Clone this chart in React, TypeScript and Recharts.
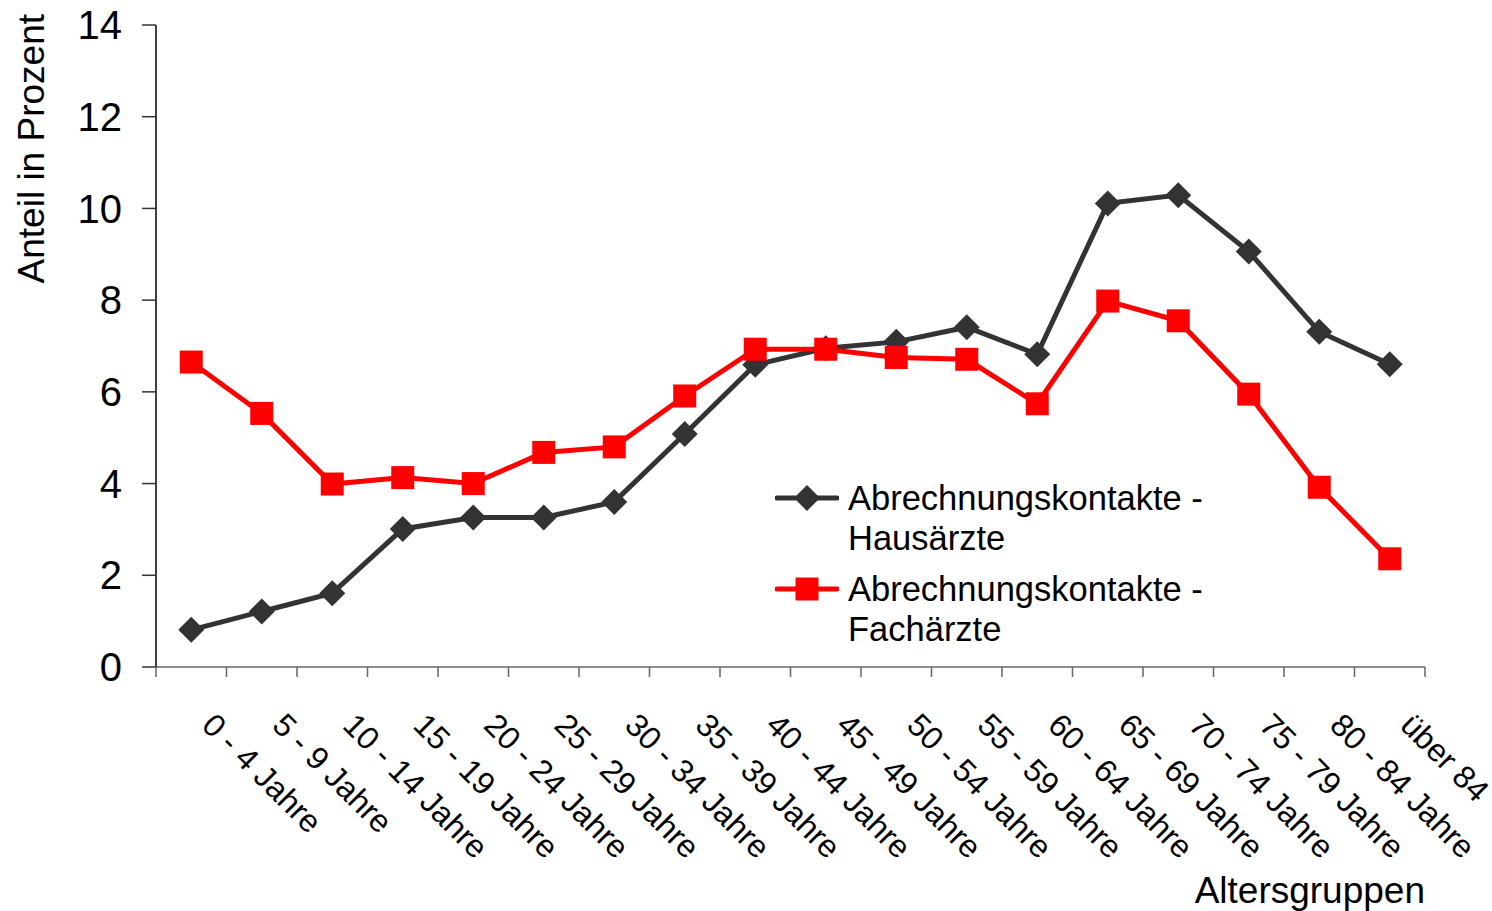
import { LineChart, Line, XAxis, YAxis, Label } from 'recharts';

const ageGroups = [
  '0 - 4 Jahre', '5 - 9 Jahre', '10 - 14 Jahre', '15 - 19 Jahre', '20 - 24 Jahre',
  '25 - 29 Jahre', '30 - 34 Jahre', '35 - 39 Jahre', '40 - 44 Jahre', '45 - 49 Jahre',
  '50 - 54 Jahre', '55 - 59 Jahre', '60 - 64 Jahre', '65 - 69 Jahre', '70 - 74 Jahre',
  '75 - 79 Jahre', '80 - 84 Jahre', 'über 84',
];

// Anteil in Prozent je Altersgruppe
const hausaerzte = [
  0.81, 1.21, 1.61, 3.01, 3.26, 3.26, 3.6, 5.08, 6.59,
  6.95, 7.09, 7.41, 6.82, 10.11, 10.29, 9.06, 7.31, 6.6,
];
const fachaerzte = [
  6.65, 5.53, 3.99, 4.13, 4.0, 4.68, 4.8, 5.91, 6.93,
  6.93, 6.75, 6.71, 5.74, 7.98, 7.55, 5.95, 3.92, 2.36,
];

const yTicks = [0, 2, 4, 6, 8, 10, 12, 14];

const data = ageGroups.map((group, i) => ({
  group,
  haus: hausaerzte[i],
  fach: fachaerzte[i],
}));

const FONT = '"Liberation Sans", Arial, sans-serif';
const W = 1492;
const H = 911;
const PLOT_LEFT = 156;
const PLOT_RIGHT = 1425;
const PLOT_TOP = 25;
const PLOT_BOTTOM = 667;
const BAND = (PLOT_RIGHT - PLOT_LEFT) / ageGroups.length;

const DARK = '#333333';
const RED = '#ff0000';

const Diamond = ({ cx, cy, half = 13 }: any) =>
  cx == null || cy == null ? null : (
    <polygon
      points={`${cx},${cy - half} ${cx + half},${cy} ${cx},${cy + half} ${cx - half},${cy}`}
      fill={DARK}
    />
  );

const Square = ({ cx, cy, half = 11.5 }: any) =>
  cx == null || cy == null ? null : (
    <rect x={cx - half} y={cy - half} width={half * 2} height={half * 2} fill={RED} />
  );

// category boundaries get the tick marks, labels hang diagonally below the centre
const AgeTick = ({ x, payload, index }: any) => (
  <g>
    <line x1={x - BAND / 2} x2={x - BAND / 2} y1={PLOT_BOTTOM} y2={PLOT_BOTTOM + 10} stroke="#666" strokeWidth={1.5} />
    {index === ageGroups.length - 1 && (
      <line x1={x + BAND / 2} x2={x + BAND / 2} y1={PLOT_BOTTOM} y2={PLOT_BOTTOM + 10} stroke="#666" strokeWidth={1.5} />
    )}
    <text
      transform={`translate(${x + 9},${PLOT_BOTTOM + 60}) rotate(45)`}
      textAnchor="start"
      fontSize={32}
      fontFamily={FONT}
      fill="#000"
    >
      {payload.value}
    </text>
  </g>
);

const legendItems = [
  { lines: ['Abrechnungskontakte -', 'Hausärzte'], marker: 'diamond', color: DARK },
  { lines: ['Abrechnungskontakte -', 'Fachärzte'], marker: 'square', color: RED },
];

const LegendBox = () => (
  <div style={{ position: 'absolute', left: 775, top: 478, fontFamily: FONT, fontSize: 34.5, color: '#000' }}>
    {legendItems.map((item) => (
      <div key={item.lines[1]} style={{ display: 'flex', alignItems: 'flex-start', marginBottom: 11 }}>
        <svg width={64} height={40} style={{ flex: 'none' }}>
          <line x1={2} x2={62} y1={20} y2={20} stroke={item.color} strokeWidth={5} strokeLinecap="round" />
          {item.marker === 'diamond' ? <Diamond cx={32} cy={20} /> : <Square cx={32} cy={20} />}
        </svg>
        <div style={{ marginLeft: 9, lineHeight: '40px', whiteSpace: 'nowrap' }}>
          {item.lines[0]}
          <br />
          {item.lines[1]}
        </div>
      </div>
    ))}
  </div>
);

export default function App() {
  return (
    <div style={{ position: 'fixed', left: 0, top: 0, width: W, height: H, background: '#fff' }}>
      <LineChart
        width={W}
        height={H}
        data={data}
        margin={{ top: PLOT_TOP, right: W - PLOT_RIGHT, bottom: 0, left: 0 }}
      >
        <XAxis
          dataKey="group"
          interval={0}
          height={H - PLOT_BOTTOM}
          padding={{ left: BAND / 2, right: BAND / 2 }}
          axisLine={{ stroke: '#666', strokeWidth: 1.5 }}
          tickLine={false}
          tickSize={0}
          tick={<AgeTick />}
        >
          <Label
            content={() => (
              <text x={PLOT_RIGHT} y={903} textAnchor="end" fontSize={37} fontFamily={FONT} fill="#000">
                Altersgruppen
              </text>
            )}
          />
        </XAxis>
        <YAxis
          width={PLOT_LEFT}
          domain={[0, 14]}
          ticks={yTicks}
          interval={0}
          axisLine={{ stroke: '#000', strokeWidth: 1.5 }}
          tickLine={{ stroke: '#333', strokeWidth: 1.5 }}
          tickSize={14}
          tickMargin={20}
          tick={{ fontSize: 40, fontFamily: FONT, fill: '#000' }}
        >
          <Label
            content={() => (
              <text
                transform="translate(44,14) rotate(-90)"
                textAnchor="end"
                fontSize={37}
                fontFamily={FONT}
                fill="#000"
              >
                Anteil in Prozent
              </text>
            )}
          />
        </YAxis>
        <Line
          dataKey="haus"
          name="Abrechnungskontakte - Hausärzte"
          stroke={DARK}
          strokeWidth={5}
          dot={(p: any) => <Diamond key={`h${p.index}`} cx={p.cx} cy={p.cy} />}
          activeDot={false}
          isAnimationActive={false}
        />
        <Line
          dataKey="fach"
          name="Abrechnungskontakte - Fachärzte"
          stroke={RED}
          strokeWidth={5}
          dot={(p: any) => <Square key={`f${p.index}`} cx={p.cx} cy={p.cy} />}
          activeDot={false}
          isAnimationActive={false}
        />
      </LineChart>
      <LegendBox />
    </div>
  );
}
